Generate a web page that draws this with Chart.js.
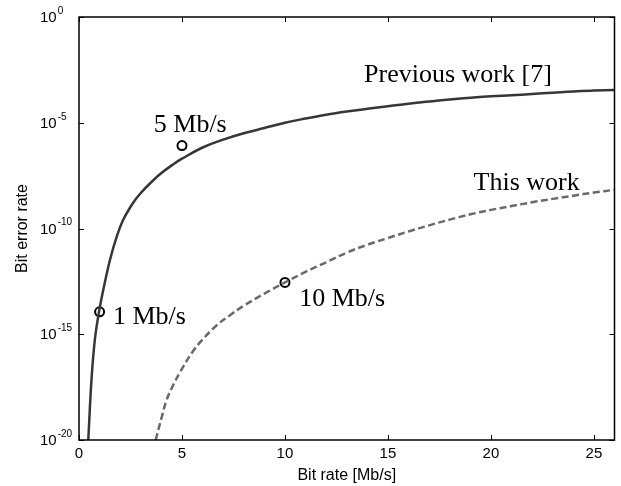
<!DOCTYPE html>
<html>
<head>
<meta charset="utf-8">
<script src="https://cdn.jsdelivr.net/npm/chart.js@4"></script>
<style>
  body { margin: 0; background: #fff; }
  canvas { display: block; }
</style>
</head>
<body>
<canvas id="berChart" width="621" height="486"></canvas>
<script>
// bit rate (Mb/s) and log10(BER)
const prevRate = [0.45, 0.61, 0.77, 0.97, 1.18, 1.5, 1.82, 2.14, 2.63, 3.0, 3.5, 4.0, 4.6, 5.0, 6.0, 7.0, 8.0, 9.0, 10, 11, 12, 13, 14, 15, 16, 17, 18, 19, 20, 21, 22, 23, 24, 25, 26];
const prevExp  = [-20, -17.1, -15.25, -13.95, -12.9, -11.5, -10.42, -9.6, -8.78, -8.32, -7.82, -7.38, -6.95, -6.7, -6.17, -5.8, -5.5, -5.25, -5.0, -4.8, -4.62, -4.47, -4.34, -4.22, -4.1, -4.0, -3.9, -3.82, -3.75, -3.7, -3.64, -3.58, -3.52, -3.48, -3.45];

const thisRate = [3.72, 4.0, 4.25, 4.5, 4.9, 5.5, 6.0, 6.66, 7.3, 8.0, 9.0, 10, 11, 12, 13, 14, 15, 16, 17, 18, 19, 20, 21, 22, 23, 24, 25, 26];
const thisExp  = [-20, -18.98, -18.12, -17.55, -16.8, -15.85, -15.25, -14.6, -14.12, -13.65, -13.08, -12.55, -12.05, -11.6, -11.14, -10.77, -10.45, -10.14, -9.85, -9.58, -9.33, -9.12, -8.94, -8.76, -8.6, -8.45, -8.3, -8.17];

const markRate = [1, 5, 10];
const markExp  = [-13.94, -6.08, -12.55];

const xTicks = [0, 5, 10, 15, 20, 25];
const yTickExp = [-20, -15, -10, -5, 0];

const noteText = ["Previous work [7]", "5 Mb/s", "1 Mb/s", "10 Mb/s", "This work"];
const noteRate = [13.84, 3.63, 1.65, 10.69, 19.16];
const noteExp  = [-3.09, -5.42, -14.5, -13.68, -8.17];

const pts = (xs, es) => xs.map((x, i) => ({ x: x, y: Math.pow(10, es[i]) }));

const frame = {
  id: "frame",
  afterDraw(chart) {
    const c = chart.ctx, a = chart.chartArea;
    const xs = chart.scales.x, ys = chart.scales.y;
    c.save();
    c.strokeStyle = "#000";
    c.lineWidth = 1.5;
    c.strokeRect(a.left, a.top, a.right - a.left, a.bottom - a.top);
    c.lineWidth = 1;
    c.beginPath();
    xTicks.forEach(v => {
      const px = Math.round(xs.getPixelForValue(v)) + 0.5;
      c.moveTo(px, a.bottom); c.lineTo(px, a.bottom - 5);
      c.moveTo(px, a.top); c.lineTo(px, a.top + 5);
    });
    yTickExp.forEach(e => {
      const py = Math.round(ys.getPixelForValue(Math.pow(10, e))) + 0.5;
      c.moveTo(a.left, py); c.lineTo(a.left + 5, py);
      c.moveTo(a.right, py); c.lineTo(a.right - 5, py);
    });
    c.stroke();

    // y tick labels as 10^n
    c.fillStyle = "#000";
    c.textAlign = "left";
    c.textBaseline = "middle";
    yTickExp.forEach(e => {
      const py = ys.getPixelForValue(Math.pow(10, e));
      c.font = "15px 'Liberation Sans', Arial, sans-serif";
      c.fillText("10", 40, py + 1);
      const w = c.measureText("10").width;
      c.font = "10px 'Liberation Sans', Arial, sans-serif";
      c.fillText(String(e), 40 + w + 1, py - 6);
    });

    // curve labels
    c.font = "26px 'Liberation Serif', 'Times New Roman', serif";
    c.textBaseline = "alphabetic";
    noteText.forEach((t, i) => {
      c.fillText(t, xs.getPixelForValue(noteRate[i]), ys.getPixelForValue(Math.pow(10, noteExp[i])));
    });
    c.restore();
  }
};

new Chart(document.getElementById("berChart"), {
  type: "scatter",
  data: {
    datasets: [
      {
        data: pts(prevRate, prevExp),
        showLine: true,
        borderColor: "#363636",
        borderWidth: 2.5,
        pointRadius: 0,
        tension: 0.4
      },
      {
        data: pts(thisRate, thisExp),
        showLine: true,
        borderColor: "#6a6a6a",
        borderWidth: 2.5,
        borderDash: [7, 3.5],
        pointRadius: 0,
        tension: 0.4
      },
      {
        data: pts(markRate, markExp),
        showLine: false,
        pointStyle: "circle",
        pointRadius: 4.5,
        borderWidth: 2,
        borderColor: "#000",
        backgroundColor: "rgba(0,0,0,0)",
        clip: false
      }
    ]
  },
  options: {
    responsive: false,
    animation: false,
    layout: { padding: { top: 17, right: 4, left: 0, bottom: 0 } },
    plugins: { legend: { display: false }, tooltip: { enabled: false } },
    scales: {
      x: {
        type: "linear",
        min: 0,
        max: 26,
        afterBuildTicks: s => { s.ticks = xTicks.map(v => ({ value: v })); },
        afterFit: s => { s.height = 46; },
        grid: { display: false, drawTicks: false },
        border: { display: false },
        ticks: {
          color: "#000",
          padding: 5,
          maxRotation: 0,
          font: { family: "'Liberation Sans', Arial, sans-serif", size: 15 }
        },
        title: {
          display: true,
          text: "Bit rate [Mb/s]",
          color: "#000",
          padding: { top: 0, bottom: 1 },
          font: { family: "'Liberation Sans', Arial, sans-serif", size: 16 }
        }
      },
      y: {
        type: "logarithmic",
        min: 1e-20,
        max: 1,
        afterBuildTicks: s => { s.ticks = yTickExp.map(e => ({ value: Math.pow(10, e) })); },
        afterFit: s => { s.width = 79; },
        grid: { display: false, drawTicks: false },
        border: { display: false },
        ticks: { display: false },
        title: {
          display: true,
          text: "Bit error rate",
          color: "#000",
          padding: { top: 13, bottom: 0 },
          font: { family: "'Liberation Sans', Arial, sans-serif", size: 16 }
        }
      }
    }
  },
  plugins: [frame]
});
</script>
</body>
</html>
